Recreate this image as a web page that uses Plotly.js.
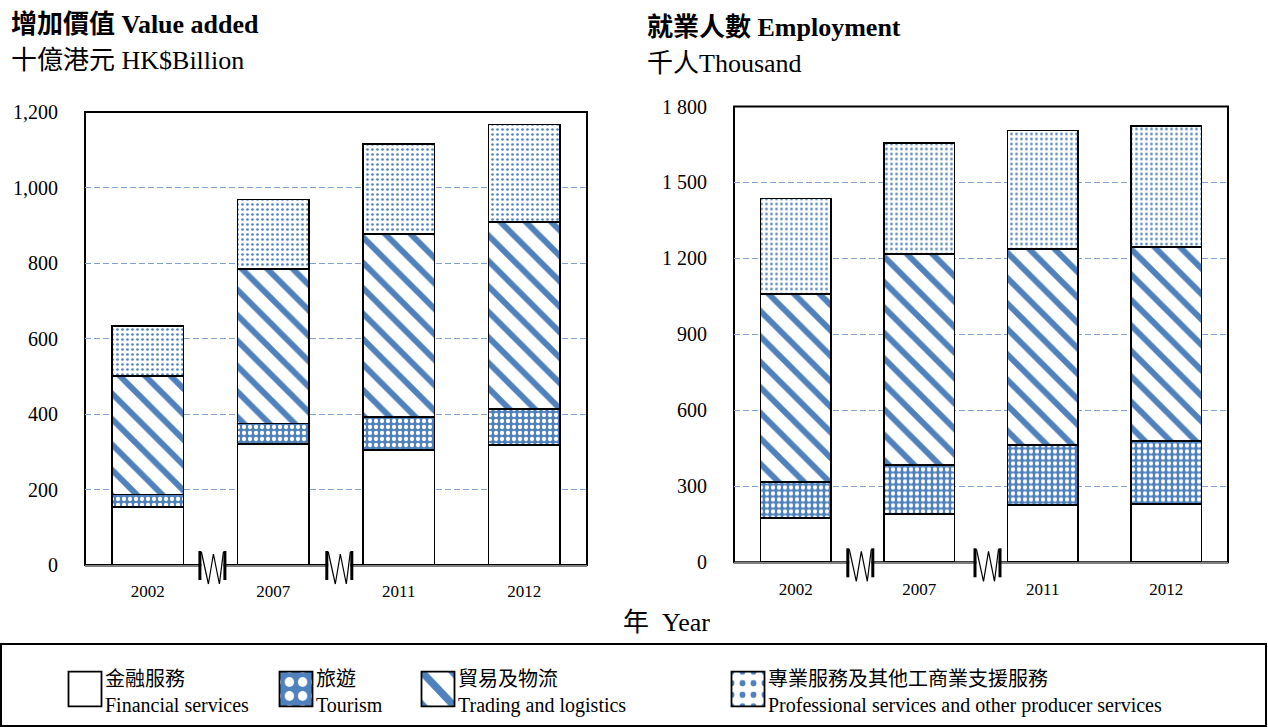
<!DOCTYPE html>
<html>
<head>
<meta charset="utf-8">
<script src="https://cdn.plot.ly/plotly-3.0.1.min.js"></script>
<style>
  html, body { margin: 0; padding: 0; background: #fff; }
  #chart { width: 1268px; height: 727px; }
  .legendpoints path {
    transform-box: fill-box; transform-origin: 50% 50%;
    transform: translate(20px, -2px) scale(2.75, 2.9); vector-effect: non-scaling-stroke;
  }
</style>
</head>
<body>
<div id="chart"></div>
<script>
// ---- data ----
const years = ['2002', '2007', '2011', '2012'];
const seriesNames = [
  '金融服務<br>Financial services',
  '旅遊<br>Tourism',
  '貿易及物流<br>Trading and logistics',
  '專業服務及其他工商業支援服務<br>Professional services and other producer services'
];
// Value added, HK$ billion (segment values)
const vaFinancial    = [153, 321, 305, 318];
const vaTourism      = [34, 54, 87, 95];
const vaTrading      = [313, 409, 485, 495];
const vaProfessional = [134, 184, 238, 259];
// Employment, thousand (segment values)
const empFinancial    = [176, 191, 226, 229];
const empTourism      = [142, 192, 236, 250];
const empTrading      = [740, 835, 775, 765];
const empProfessional = [379, 439, 468, 480];
// tick labels
const leftTickVals  = [0, 200, 400, 600, 800, 1000, 1200];
const leftTickText  = ['0', '200', '400', '600', '800', '1,000', '1,200'];
const rightTickVals = [0, 300, 600, 900, 1200, 1500, 1800];
const rightTickText = ['0', '300', '600', '900', '1 200', '1 500', '1 800'];

// ---- styles ----
const W = 1268, H = 727;
const FONT = '"Liberation Serif", "Times New Roman", "Noto Sans CJK TC", serif';
const BLUE = '#4F81BD';
const patterns = [
  { shape: '', fillmode: 'replace' },
  { shape: '.', bgcolor: BLUE, fgcolor: '#ffffff', size: 6, solidity: 0.4, fillmode: 'replace' },
  { shape: '\\', bgcolor: '#ffffff', fgcolor: BLUE, size: 18, solidity: 0.33, fillmode: 'replace' },
  { shape: '.', bgcolor: '#ffffff', fgcolor: BLUE, size: 5, solidity: 0.22, fillmode: 'replace' }
];
const legends = ['legend', 'legend2', 'legend3', 'legend4'];

const leftSeries = [vaFinancial, vaTourism, vaTrading, vaProfessional];
const rightSeries = [empFinancial, empTourism, empTrading, empProfessional];

const traces = [];
leftSeries.forEach((vals, i) => {
  traces.push({
    type: 'bar', x: years, y: vals, name: seriesNames[i], xaxis: 'x', yaxis: 'y',
    width: 0.57, legend: legends[i], showlegend: true,
    marker: { color: '#ffffff', line: { color: '#000', width: 1.8 }, pattern: patterns[i] },
    hoverinfo: 'skip'
  });
});
rightSeries.forEach((vals, i) => {
  traces.push({
    type: 'bar', x: years, y: vals, name: seriesNames[i], xaxis: 'x2', yaxis: 'y2',
    width: 0.57, showlegend: false,
    marker: { color: '#ffffff', line: { color: '#000', width: 1.8 }, pattern: patterns[i] },
    hoverinfo: 'skip'
  });
});

function px(x) { return x / W; }
function py(y) { return 1 - y / H; }

const axisCommon = {
  showgrid: false, zeroline: false, ticks: '', fixedrange: true,
  tickfont: { family: FONT, size: 17, color: '#000' }
};
const yCommon = {
  showgrid: true, gridcolor: '#83A3D4', griddash: '6px,3px', gridwidth: 1,
  zeroline: false, ticks: '', showline: false, fixedrange: true,
  tickfont: { family: FONT, size: 20, color: '#000' }, ticklabelstandoff: 26
};

// axis-break marker drawn in pixel units around an anchor point on the x axis line
function breakMarker(xPix, yPix) {
  const base = { xref: 'paper', yref: 'paper', xsizemode: 'pixel', ysizemode: 'pixel', xanchor: px(xPix), yanchor: py(yPix), layer: 'above' };
  return [
    Object.assign({}, base, { type: 'path', path: 'M-11,-4H11V4H-11Z', fillcolor: '#ffffff', line: { width: 0 } }),
    Object.assign({}, base, { type: 'path', path: 'M-14,14H-11V-15H-14Z', fillcolor: '#000', line: { width: 0 } }),
    Object.assign({}, base, { type: 'path', path: 'M11,14H14V-15H11Z', fillcolor: '#000', line: { width: 0 } }),
    Object.assign({}, base, { type: 'path', path: 'M-11,13L-4,-19L1,11L7,-19L11,13', line: { color: '#000', width: 1.2 } })
  ];
}

const shapes = [
  // plot frames
  { type: 'rect', xref: 'x domain', yref: 'y domain', x0: 0, x1: 1, y0: 0, y1: 1, line: { color: '#000', width: 2 }, layer: 'below' },
  { type: 'rect', xref: 'x2 domain', yref: 'y2 domain', x0: 0, x1: 1, y0: 0, y1: 1, line: { color: '#000', width: 2 }, layer: 'below' },
  // legend box
  { type: 'rect', xref: 'paper', yref: 'paper', x0: px(1), x1: px(1266), y0: py(726), y1: py(644), line: { color: '#000', width: 2 } }
].concat(
  breakMarker(212.4, 565), breakMarker(339.3, 565),
  breakMarker(860.3, 562.3), breakMarker(987.5, 562.3)
);

const annFont = { family: FONT, size: 26, color: '#000' };
const annotations = [
  { text: '<b>增加價值 Value added</b>', x: px(9), y: py(25), xref: 'paper', yref: 'paper', xanchor: 'left', yanchor: 'middle', showarrow: false, font: annFont },
  { text: '十億港元 HK$Billion', x: px(9), y: py(60), xref: 'paper', yref: 'paper', xanchor: 'left', yanchor: 'middle', showarrow: false, font: annFont },
  { text: '<b>就業人數 Employment</b>', x: px(645), y: py(28), xref: 'paper', yref: 'paper', xanchor: 'left', yanchor: 'middle', showarrow: false, font: annFont },
  { text: '千人Thousand', x: px(645), y: py(63), xref: 'paper', yref: 'paper', xanchor: 'left', yanchor: 'middle', showarrow: false, font: annFont },
  { text: '年  Year', x: px(667), y: py(622), xref: 'paper', yref: 'paper', xanchor: 'center', yanchor: 'middle', showarrow: false, font: annFont }
];

const legendBase = {
  orientation: 'v', xanchor: 'left', yanchor: 'middle', y: py(691),
  bgcolor: 'rgba(0,0,0,0)', borderwidth: 0,
  font: { family: FONT, size: 20, color: '#000' }, itemclick: false, itemdoubleclick: false
};
const legendXs = [65, 276, 418, 728];

const layout = {
  width: W, height: H,
  margin: { l: 0, r: 0, t: 0, b: 0 },
  paper_bgcolor: '#ffffff', plot_bgcolor: '#ffffff',
  barmode: 'stack',
  font: { family: FONT, color: '#000' },
  xaxis: Object.assign({}, axisCommon, {
    domain: [px(85), px(587)], anchor: 'y', type: 'category', range: [-0.5, 3.5],
    showline: true, linecolor: '#808080', linewidth: 2, ticklabelstandoff: 10
  }),
  yaxis: Object.assign({}, yCommon, {
    domain: [py(565), py(112)], anchor: 'x', range: [0, 1200],
    tickmode: 'array', tickvals: leftTickVals, ticktext: leftTickText
  }),
  xaxis2: Object.assign({}, axisCommon, {
    domain: [px(734), px(1228)], anchor: 'y2', type: 'category', range: [-0.5, 3.5],
    showline: true, linecolor: '#808080', linewidth: 2, ticklabelstandoff: 10
  }),
  yaxis2: Object.assign({}, yCommon, {
    domain: [py(562.3), py(106.5)], anchor: 'x2', range: [0, 1800],
    tickmode: 'array', tickvals: rightTickVals, ticktext: rightTickText
  }),
  shapes: shapes,
  annotations: annotations,
  showlegend: true
};
legends.forEach((k, i) => {
  layout[k] = Object.assign({}, legendBase, { x: px(legendXs[i]) });
});

Plotly.newPlot('chart', traces, layout, { staticPlot: true, displayModeBar: false });
</script>
</body>
</html>
